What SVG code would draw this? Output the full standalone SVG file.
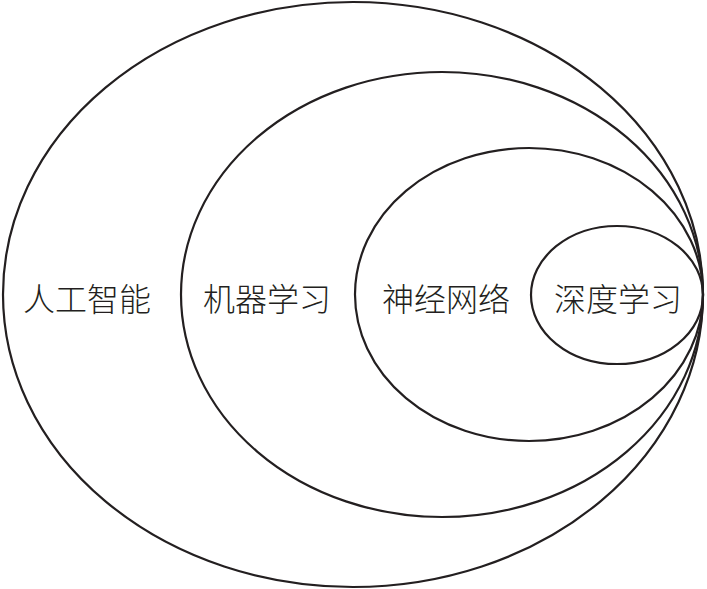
<svg xmlns="http://www.w3.org/2000/svg" width="707" height="589" viewBox="0 0 707 589">
<style>
.e{fill:none;stroke:#231f20;stroke-width:2.2}
.t{font-family:"Noto Sans CJK SC","Noto Sans",sans-serif;font-weight:300;font-size:32px;fill:#231f20;text-anchor:middle;dominant-baseline:central}
</style>
<rect width="707" height="589" fill="#fff"/>
<g id="ai"><ellipse class="e" cx="353" cy="294.5" rx="350" ry="292.5"/><text class="t" x="87" y="297">人工智能</text></g>
<g id="ml"><ellipse class="e" cx="442" cy="294.5" rx="261" ry="222.5"/><text class="t" x="267" y="297">机器学习</text></g>
<g id="nn"><ellipse class="e" cx="529" cy="294.5" rx="174" ry="146.5"/><text class="t" x="446" y="297">神经网络</text></g>
<g id="dl"><ellipse class="e" cx="617" cy="295" rx="86" ry="69"/><text class="t" x="618" y="297">深度学习</text></g>
<g id="connectors"/>
</svg>
